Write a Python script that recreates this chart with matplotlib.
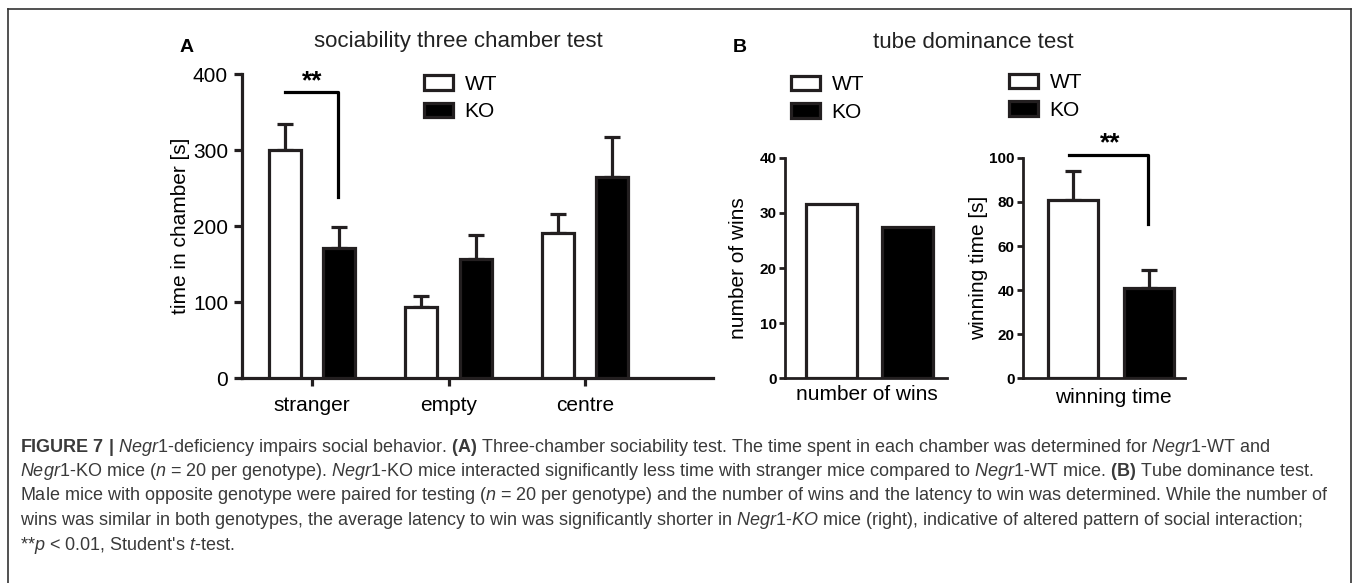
import matplotlib
matplotlib.use("Agg")
import matplotlib.pyplot as plt
from matplotlib.lines import Line2D
from matplotlib.patches import Patch
import numpy as np

plt.rcParams["font.family"] = ["Liberation Sans", "DejaVu Sans"]
plt.rcParams["mathtext.fontset"] = "custom"
plt.rcParams["mathtext.rm"] = "Liberation Sans"
plt.rcParams["mathtext.it"] = "Liberation Sans:italic"
plt.rcParams["mathtext.bf"] = "Liberation Sans:bold"

# (A) sociability three chamber test
chambers = ["stranger", "empty", "centre"]
wt_time = [300, 93, 191]
wt_time_err = [34, 15, 25]
ko_time = [171, 156, 265]
ko_time_err = [28, 32, 52]

# (B) tube dominance test
wins = [31.6, 27.5]          # WT, KO
win_time = [81, 41]          # WT, KO
win_time_err = [13, 8]

groups = ["WT", "KO"]

dark = "#231f20"
lw = 2.3

fig = plt.figure(figsize=(13.54, 5.83), dpi=100)

# frame round the figure (open at the bottom)
for xs, ys in [([8 / 1354, 8 / 1354], [0, 1 - 9 / 583]),
               ([8 / 1354, 1351 / 1354], [1 - 9 / 583, 1 - 9 / 583]),
               ([1351 / 1354, 1351 / 1354], [1 - 9 / 583, 0])]:
    fig.add_artist(Line2D(xs, ys, color="#333333", lw=1.2, transform=fig.transFigure))


def style_axes(ax, spine_lw):
    for s in ["top", "right"]:
        ax.spines[s].set_visible(False)
    for s in ["left", "bottom"]:
        ax.spines[s].set_linewidth(spine_lw)
        ax.spines[s].set_color(dark)
        ax.spines[s].set_capstyle("projecting")


def legend(ax, x, y):
    handles = [Patch(facecolor="white", edgecolor=dark, lw=lw),
               Patch(facecolor="black", edgecolor=dark, lw=lw)]
    ax.legend(handles, groups, loc="upper left", bbox_to_anchor=(x, y),
              bbox_transform=fig.transFigure, frameon=False, fontsize=15,
              handlelength=1.4, handleheight=0.7, handletextpad=0.55,
              labelspacing=0.4, borderpad=0, borderaxespad=0)


# ---- panel A ----
axA = fig.add_axes([0.1787, 0.3516, 0.3479, 0.5214])
x = np.arange(len(chambers))
off = 0.2
bw = 0.235
axA.bar(x - off, wt_time, bw, color="white", edgecolor=dark, lw=lw, zorder=3)
axA.bar(x + off, ko_time, bw, color="black", edgecolor=dark, lw=lw, zorder=3)
axA.errorbar(x - off, wt_time, yerr=[np.zeros(3), wt_time_err], fmt="none",
             ecolor=dark, elinewidth=lw, capsize=6, capthick=lw, zorder=2)
axA.errorbar(x + off, ko_time, yerr=[np.zeros(3), ko_time_err], fmt="none",
             ecolor=dark, elinewidth=lw, capsize=6, capthick=lw, zorder=2)
axA.set_xlim(-0.515, 2.94)
axA.set_ylim(0, 400)
axA.set_yticks([0, 100, 200, 300, 400])
axA.set_xticks(x)
axA.set_xticklabels(chambers)
axA.tick_params(axis="both", labelsize=15, width=lw, length=6, color=dark, pad=4)
axA.tick_params(axis="x", pad=7)
axA.set_ylabel("time in chamber [s]", fontsize=15)
axA.yaxis.set_label_coords(-0.110, 0.5)
style_axes(axA, lw)

# significance bracket, stranger
axA.plot([-off, 0.19, 0.19], [376, 376, 238], color="black", lw=lw, clip_on=False)
axA.text(0.0, 374, "**", ha="center", va="bottom", fontsize=19, fontweight="bold")
legend(axA, 0.3131, 0.8715)

# ---- panel B, number of wins ----
axB1 = fig.add_axes([0.5798, 0.3516, 0.1196, 0.3774])
xb = np.arange(2)
axB1.bar(xb, wins, 0.667, color=["white", "black"], edgecolor=dark, lw=lw, zorder=3)
axB1.set_xlim(-0.608, 1.51)
axB1.set_ylim(0, 40)
axB1.set_yticks([0, 10, 20, 30, 40])
axB1.set_xticks([])
axB1.set_xlabel("number of wins", fontsize=15)
axB1.xaxis.set_label_coords(0.506, -0.03, transform=axB1.transAxes)
axB1.set_ylabel("number of wins", fontsize=15)
axB1.yaxis.set_label_coords(-0.228, 0.5)
axB1.tick_params(axis="y", labelsize=11, width=2, length=4, color=dark, pad=2)
for t in axB1.get_yticklabels():
    t.set_fontweight("bold")
style_axes(axB1, 2)
legend(axB1, 0.5842, 0.8705)

# ---- panel B, winning time ----
axB2 = fig.add_axes([0.7555, 0.3516, 0.1196, 0.3774])
axB2.bar(xb, win_time, 0.66, color=["white", "black"], edgecolor=dark, lw=lw, zorder=3)
axB2.errorbar(xb, win_time, yerr=[np.zeros(2), win_time_err], fmt="none",
              ecolor=dark, elinewidth=lw, capsize=6, capthick=lw, zorder=2)
axB2.set_xlim(-0.658, 1.47)
axB2.set_ylim(0, 100)
axB2.set_yticks([0, 20, 40, 60, 80, 100])
axB2.set_xticks([])
axB2.set_xlabel("winning time", fontsize=15)
axB2.xaxis.set_label_coords(0.556, -0.045, transform=axB2.transAxes)
axB2.set_ylabel("winning time [s]", fontsize=15)
axB2.yaxis.set_label_coords(-0.216, 0.5)
axB2.tick_params(axis="y", labelsize=11, width=2, length=4, color=dark, pad=2)
for t in axB2.get_yticklabels():
    t.set_fontweight("bold")
style_axes(axB2, 2)
axB2.plot([-0.05, 0.99, 0.99], [101.4, 101.4, 70], color="black", lw=lw, clip_on=False)
axB2.text(0.49, 101, "**", ha="center", va="bottom", fontsize=19, fontweight="bold")
legend(axB2, 0.7452, 0.8740)

# titles and panel letters
fig.text(458 / 1354, 1 - 42 / 583, "sociability three chamber test", ha="center",
         va="center", fontsize=16, color="#222222")
fig.text(973 / 1354, 1 - 42 / 583, "tube dominance test", ha="center",
         va="center", fontsize=16, color="#222222")
fig.text(180 / 1354, 1 - 48 / 583, "A", ha="left", va="center", fontsize=14,
         fontweight="bold")
fig.text(733 / 1354, 1 - 48 / 583, "B", ha="left", va="center", fontsize=14,
         fontweight="bold")

# caption
caption = [
    r"$\mathbf{FIGURE\ 7\ |}$ $\mathit{Negr1}$-deficiency impairs social behavior. "
    r"$\mathbf{(A)}$ Three-chamber sociability test. The time spent in each chamber "
    r"was determined for $\mathit{Negr1}$-WT and",
    r"$\mathit{Negr1}$-KO mice ($\mathit{n}$ = 20 per genotype). $\mathit{Negr1}$-KO mice "
    r"interacted significantly less time with stranger mice compared to "
    r"$\mathit{Negr1}$-WT mice. $\mathbf{(B)}$ Tube dominance test.",
    r"Male mice with opposite genotype were paired for testing ($\mathit{n}$ = 20 per "
    r"genotype) and the number of wins and the latency to win was determined. While "
    r"the number of",
    r"wins was similar in both genotypes, the average latency to win was significantly "
    r"shorter in $\mathit{Negr1}$-$\mathit{KO}$ mice (right), indicative of altered "
    r"pattern of social interaction;",
    r"**$\mathit{p}$ < 0.01, Student's $\mathit{t}$-test.",
]
for i, line in enumerate(caption):
    fig.text(20 / 1354, 1 - (447 + 24.5 * i) / 583, line, ha="left", va="center",
             fontsize=13, color="#3a3a3a")

fig.savefig("out.png", dpi=100)
